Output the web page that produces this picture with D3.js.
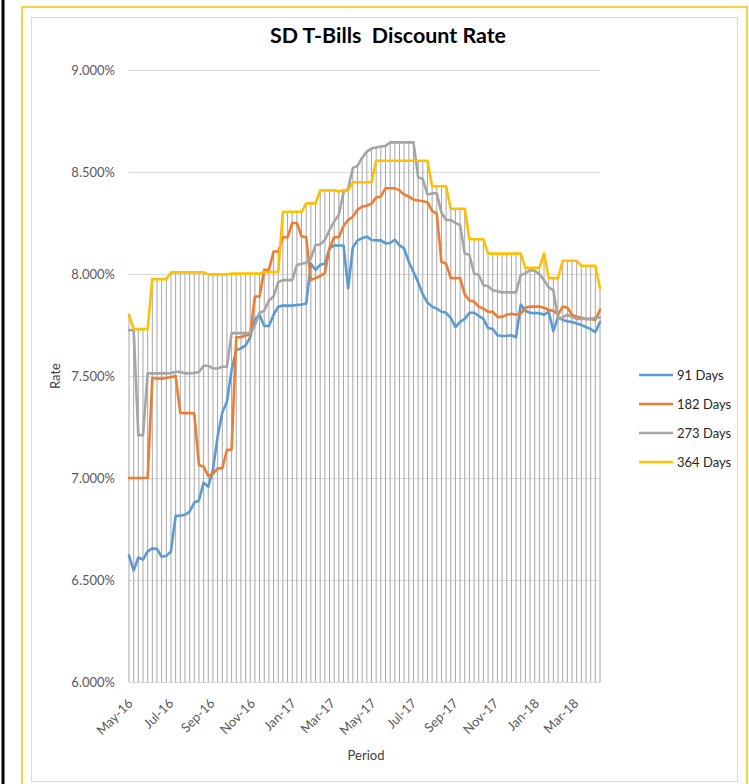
<!DOCTYPE html>
<html>
<head>
<meta charset="utf-8">
<script src="https://cdn.jsdelivr.net/npm/d3@7"></script>
<style>
    body { margin: 0; background: #fff; }
    text { font-family: Lato, "Open Sans", sans-serif; }
</style>
</head>
<body>
<svg id="chart" width="749" height="784"></svg>
<script>

//////////////////////
// Data
//////////////////////

// weekly auction dates
var firstDate = new Date(2016, 4, 1);
var weekCount = 102;

var rate91 = [6.62,6.546,6.61,6.60,6.64,6.655,6.652,6.614,6.618,6.64,
    6.815,6.815,6.82,6.835,6.88,6.89,6.977,6.957,7.04,7.203,
    7.32,7.374,7.53,7.627,7.635,7.65,7.69,7.78,7.80,7.745,
    7.745,7.80,7.84,7.845,7.845,7.845,7.848,7.85,7.855,8.05,
    8.02,8.045,8.05,8.125,8.14,8.14,8.14,7.93,8.13,8.165,
    8.175,8.183,8.167,8.165,8.165,8.15,8.152,8.168,8.14,8.125,
    8.06,8.01,7.96,7.90,7.86,7.84,7.83,7.815,7.81,7.785,
    7.74,7.765,7.78,7.81,7.81,7.795,7.78,7.735,7.73,7.70,
    7.696,7.696,7.70,7.69,7.85,7.82,7.81,7.808,7.808,7.80,
    7.815,7.72,7.79,7.775,7.768,7.765,7.757,7.75,7.74,7.73,
    7.715,7.765];

var rate182 = [7.0,7.0,7.0,7.0,7.0,7.49,7.488,7.487,7.49,7.495,
    7.50,7.32,7.318,7.318,7.316,7.064,7.056,7.01,7.02,7.047,
    7.047,7.137,7.14,7.69,7.69,7.70,7.70,7.89,7.89,8.02,
    8.02,8.11,8.11,8.18,8.18,8.25,8.25,8.185,8.18,7.97,
    7.98,7.99,8.005,8.127,8.18,8.18,8.235,8.265,8.28,8.315,
    8.33,8.335,8.345,8.375,8.38,8.42,8.42,8.42,8.41,8.39,
    8.38,8.365,8.36,8.357,8.352,8.31,8.295,8.06,8.05,7.98,
    7.98,7.98,7.90,7.87,7.865,7.84,7.83,7.815,7.815,7.79,
    7.79,7.80,7.805,7.80,7.805,7.835,7.84,7.84,7.84,7.835,
    7.823,7.82,7.80,7.84,7.836,7.80,7.79,7.785,7.78,7.78,
    7.775,7.825];

var rate273 = [7.725,7.725,7.21,7.21,7.513,7.513,7.513,7.513,7.513,7.515,
    7.52,7.52,7.513,7.513,7.515,7.52,7.55,7.55,7.537,7.537,
    7.545,7.545,7.71,7.71,7.71,7.71,7.71,7.75,7.81,7.82,
    7.87,7.89,7.96,7.97,7.97,7.97,8.044,8.05,8.055,8.077,
    8.142,8.145,8.167,8.216,8.257,8.29,8.40,8.42,8.52,8.53,
    8.57,8.60,8.615,8.62,8.625,8.628,8.645,8.645,8.645,8.645,
    8.645,8.645,8.475,8.465,8.39,8.395,8.395,8.30,8.265,8.265,
    8.25,8.24,8.10,8.093,8.003,7.995,7.946,7.94,7.92,7.915,
    7.91,7.91,7.91,7.91,7.995,8.003,8.02,8.015,8.00,7.97,
    7.935,7.92,7.78,7.787,7.80,7.79,7.78,7.78,7.78,7.778,
    7.787,7.787];

var rate364 = [7.80,7.73,7.73,7.73,7.73,7.975,7.975,7.975,7.975,8.008,
    8.008,8.008,8.008,8.008,8.008,8.008,8.008,7.998,7.998,7.998,
    7.998,7.998,8.002,8.002,8.002,8.002,8.002,8.002,8.002,8.01,
    8.01,8.01,8.01,8.305,8.305,8.305,8.305,8.305,8.346,8.346,
    8.346,8.41,8.41,8.41,8.41,8.405,8.41,8.41,8.45,8.45,
    8.45,8.45,8.45,8.555,8.555,8.555,8.555,8.555,8.555,8.555,
    8.555,8.555,8.555,8.555,8.555,8.43,8.43,8.43,8.43,8.32,
    8.32,8.32,8.32,8.17,8.17,8.17,8.17,8.10,8.10,8.10,
    8.10,8.10,8.10,8.10,8.10,8.03,8.03,8.03,8.03,8.10,
    7.98,7.98,7.98,8.065,8.065,8.065,8.065,8.04,8.04,8.04,
    8.04,7.93];

var seriesNames = ["91 Days", "182 Days", "273 Days", "364 Days"];
var seriesColors = ["#5b9bd5", "#ed7d31", "#a5a5a5", "#ffc000"];
var yTicks = [6.0, 6.5, 7.0, 7.5, 8.0, 8.5, 9.0];

var dates = d3.range(weekCount).map(function (i) { return d3.timeDay.offset(firstDate, 7 * i); });
var allSeries = [rate91, rate182, rate273, rate364];

//////////////////////
// Frame
//////////////////////

var svg = d3.select("#chart");

svg.append("line")
    .attr("x1", 3).attr("x2", 3).attr("y1", 0).attr("y2", 784)
    .attr("stroke", "#000").attr("stroke-width", 3);

svg.append("rect")
    .attr("x", 22).attr("y", 7).attr("width", 725).attr("height", 790)
    .attr("fill", "none").attr("stroke", "#ffc000").attr("stroke-width", 1.5);

svg.append("rect")
    .attr("x", 31.5).attr("y", 17.5).attr("width", 706).attr("height", 764)
    .attr("fill", "#fff").attr("stroke", "#d9d9d9").attr("stroke-width", 1);

svg.append("text")
    .attr("x", 388).attr("y", 43)
    .attr("text-anchor", "middle")
    .attr("font-size", 20.5).attr("font-weight", "bold").attr("fill", "#000")
    .attr("textLength", 236).attr("lengthAdjust", "spacingAndGlyphs")
    .attr("xml:space", "preserve")
    .text("SD T-Bills  Discount Rate");

//////////////////////
// Scales
//////////////////////

var x = d3.scaleTime()
    .domain([dates[0], dates[dates.length - 1]])
    .range([129, 600]);

var y = d3.scaleLinear()
    .domain([6, 9])
    .range([682, 70]);

//////////////////////
// Grid + axes
//////////////////////

var yAxis = svg.append("g")
    .attr("transform", "translate(129,0)")
    .call(d3.axisLeft(y).tickValues(yTicks).tickSize(-471).tickPadding(14)
        .tickFormat(function (d) { return d3.format(".3f")(d) + "%"; }));

yAxis.select(".domain").remove();
yAxis.selectAll(".tick line").attr("stroke", "#d9d9d9");
yAxis.selectAll(".tick text")
    .attr("font-size", 13).attr("fill", "#595959")
    .attr("font-family", "Lato, 'Open Sans', sans-serif");

// drop lines from the highest series down to the axis
svg.append("g")
    .selectAll("line")
    .data(dates)
    .enter()
    .append("line")
        .attr("x1", function (d) { return x(d); })
        .attr("x2", function (d) { return x(d); })
        .attr("y1", function (d, i) { return y(d3.max(allSeries, function (s) { return s[i]; })); })
        .attr("y2", y(6))
        .attr("stroke", "#a6a6a6")
        .attr("stroke-width", 1);

var xAxis = svg.append("g")
    .attr("transform", "translate(0," + y(6) + ")")
    .call(d3.axisBottom(x).ticks(d3.timeMonth.every(2)).tickSize(0)
        .tickFormat(d3.timeFormat("%b-%y")));

xAxis.select(".domain").remove();
xAxis.selectAll(".tick text")
    .attr("font-size", 13).attr("fill", "#595959")
    .attr("font-family", "Lato, 'Open Sans', sans-serif")
    .attr("text-anchor", "end")
    .attr("dx", 0).attr("dy", 0)
    .attr("transform", "translate(2,20) rotate(-45)");

svg.append("text")
    .attr("x", 366).attr("y", 760)
    .attr("text-anchor", "middle")
    .attr("font-size", 13).attr("fill", "#404040")
    .text("Period");

svg.append("text")
    .attr("transform", "translate(60,376) rotate(-90)")
    .attr("text-anchor", "middle")
    .attr("font-size", 13).attr("fill", "#404040")
    .text("Rate");

//////////////////////
// Series
//////////////////////

var line = d3.line()
    .x(function (d, i) { return x(dates[i]); })
    .y(function (d) { return y(d); });

svg.append("g")
    .selectAll("path")
    .data(allSeries)
    .enter()
    .append("path")
        .attr("d", line)
        .attr("fill", "none")
        .attr("stroke", function (d, i) { return seriesColors[i]; })
        .attr("stroke-width", 2.6)
        .attr("stroke-linejoin", "round")
        .attr("stroke-linecap", "round");

//////////////////////
// Legend
//////////////////////

var legend = svg.append("g")
    .selectAll("g")
    .data(seriesNames)
    .enter()
    .append("g")
        .attr("transform", function (d, i) { return "translate(639," + (375 + i * 29) + ")"; });

legend.append("line")
    .attr("x1", 0).attr("x2", 34)
    .attr("stroke", function (d, i) { return seriesColors[i]; })
    .attr("stroke-width", 2.6);

legend.append("text")
    .attr("x", 38).attr("y", 4.5)
    .attr("font-size", 13).attr("fill", "#262626")
    .text(function (d) { return d; });

</script>
</body>
</html>
